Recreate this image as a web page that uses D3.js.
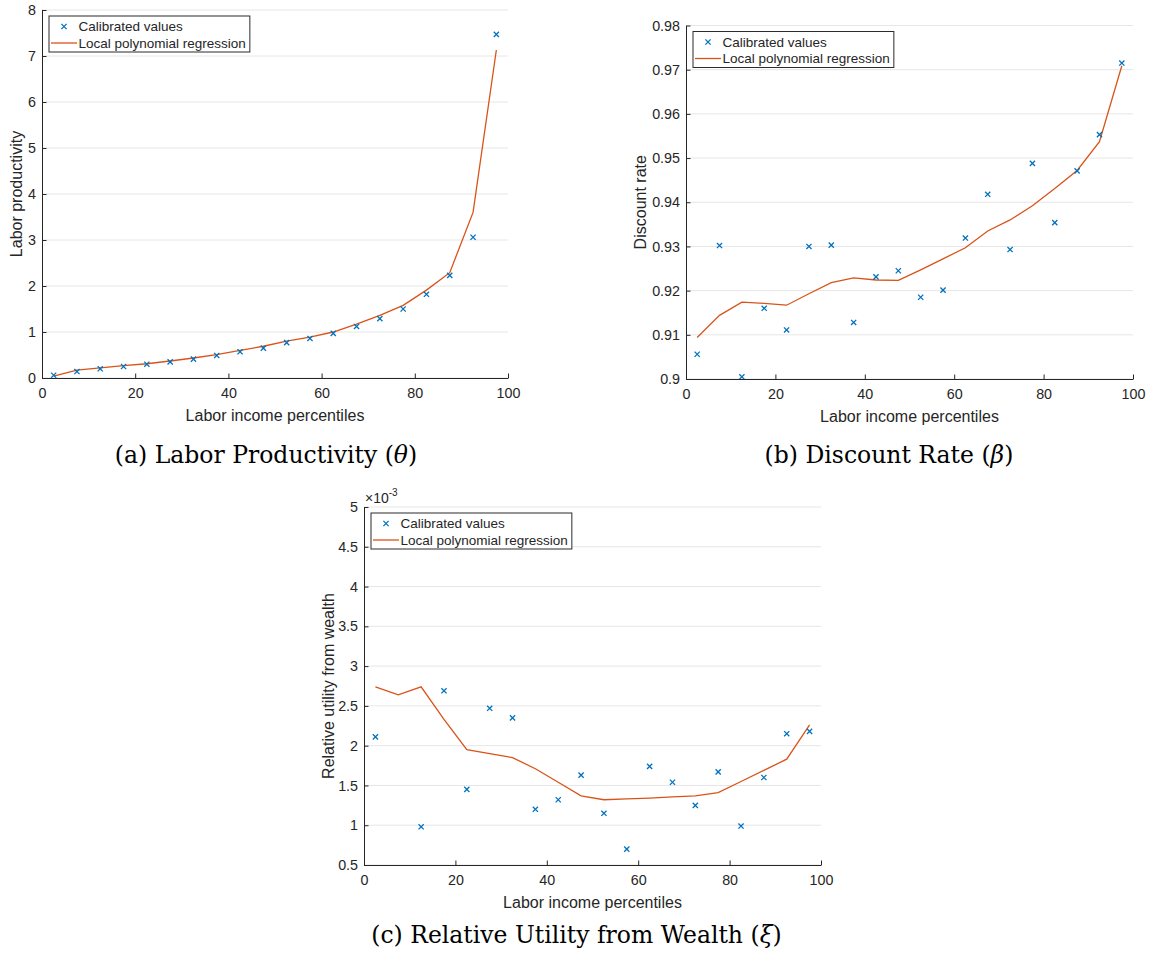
<!DOCTYPE html>
<html>
<head>
<meta charset="utf-8">
<script src="https://cdn.jsdelivr.net/npm/d3@7"></script>
<style>
body { margin: 0; background: #fff; }
svg text { font-family: "Liberation Sans", Arial, Helvetica, sans-serif; fill: #262626; }
svg text.caption { font-family: "DejaVu Serif", serif; fill: #000; }
</style>
</head>
<body>
<svg id="fig" width="1153" height="958"></svg>
<script>
// labor income percentile bins (midpoints)
var percentiles = [2.5,7.5,12.5,17.5,22.5,27.5,32.5,37.5,42.5,47.5,52.5,57.5,62.5,67.5,72.5,77.5,82.5,87.5,92.5,97.5];

// (a) labor productivity
var thetaCalibrated = [0.06,0.14,0.20,0.25,0.30,0.35,0.41,0.49,0.57,0.65,0.77,0.86,0.97,1.12,1.29,1.50,1.82,2.23,3.06,7.47];
var thetaRegression = [0.04,0.17,0.22,0.27,0.31,0.37,0.435,0.51,0.60,0.69,0.80,0.89,1.00,1.17,1.36,1.58,1.91,2.29,3.60,7.13];

// (b) discount rate
var betaCalibrated = [0.9056,0.9302,0.9005,0.9160,0.9111,0.9300,0.9303,0.9128,0.9231,0.9245,0.9185,0.9201,0.9319,0.9418,0.9293,0.9488,0.9354,0.9471,0.9553,0.9715];
var betaRegression = [0.9094,0.9144,0.9174,0.9171,0.9167,0.9193,0.9218,0.9229,0.9224,0.9223,0.9247,0.9272,0.9297,0.9335,0.9360,0.9392,0.9431,0.9472,0.9537,0.9709];

// (c) relative utility from wealth, in units of 1e-3 (no visible point at 7.5)
var xiCalibrated = [2.11,null,0.98,2.69,1.45,2.47,2.35,1.20,1.32,1.63,1.15,0.70,1.74,1.54,1.25,1.67,0.99,1.60,2.15,2.18];
var xiRegression = [2.74,2.64,2.74,2.33,1.95,1.90,1.85,1.71,1.54,1.37,1.32,1.33,1.34,1.356,1.37,1.41,1.55,1.69,1.83,2.26];

// ticks
var xTicks = [0,20,40,60,80,100];
var thetaTicks = [0,1,2,3,4,5,6,7,8];
var thetaTickLabels = ["0","1","2","3","4","5","6","7","8"];
var betaTicks = [0.90,0.91,0.92,0.93,0.94,0.95,0.96,0.97,0.98];
var betaTickLabels = ["0.9","0.91","0.92","0.93","0.94","0.95","0.96","0.97","0.98"];
var xiTicks = [0.5,1,1.5,2,2.5,3,3.5,4,4.5,5];
var xiTickLabels = ["0.5","1","1.5","2","2.5","3","3.5","4","4.5","5"];

var seriesNames = ["Calibrated values","Local polynomial regression"];
var blue = "#0072BD", orange = "#D95319";

var svg = d3.select("#fig");

function drawPanel(p) {
	var x = d3.scaleLinear().domain([0,100]).range([p.left,p.right]);
	var y = d3.scaleLinear().domain(p.yDomain).range([p.bottom,p.top]);
	var g = svg.append("g");

	// horizontal grid
	g.selectAll("line.grid")
		.data(p.yTicks)
		.enter().append("line")
			.attr("class","grid")
			.attr("x1",p.left)
			.attr("x2",p.right)
			.attr("y1",function(d){ return y(d); })
			.attr("y2",function(d){ return y(d); })
			.attr("stroke","#e6e6e6")
			.attr("stroke-width",1);

	// regression line
	var line = d3.line()
		.x(function(d,i){ return x(percentiles[i]); })
		.y(function(d){ return y(d); });
	g.append("path")
		.attr("d",line(p.regression))
		.attr("fill","none")
		.attr("stroke",orange)
		.attr("stroke-width",1.3);

	// calibrated points as x markers
	var pts = p.calibrated.map(function(d,i){ return {x:percentiles[i], v:d}; })
		.filter(function(d){ return d.v !== null; });
	g.selectAll("path.mark")
		.data(pts)
		.enter().append("path")
			.attr("class","mark")
			.attr("transform",function(d){ return "translate(" + x(d.x) + "," + y(d.v) + ")"; })
			.attr("d","M-2.6,-2.6L2.6,2.6M-2.6,2.6L2.6,-2.6")
			.attr("stroke",blue)
			.attr("stroke-width",1.3);

	// axes, ticks pointing inward
	var xAxis = g.append("g")
		.attr("transform","translate(0," + p.bottom + ")")
		.call(d3.axisBottom(x).tickValues(xTicks).tickSizeInner(-4.5).tickSizeOuter(0).tickPadding(10));
	var yAxis = g.append("g")
		.attr("transform","translate(" + p.left + ",0)")
		.call(d3.axisLeft(y).tickValues(p.yTicks).tickSizeInner(-4.5).tickSizeOuter(0).tickPadding(6)
			.tickFormat(function(d,i){ return p.yTickLabels[i]; }));
	[xAxis,yAxis].forEach(function(a){
		a.selectAll("path,line").attr("stroke","#262626");
		a.selectAll("text").attr("font-size",14.3).attr("fill","#262626")
			.style("font-family","'Liberation Sans', Arial, sans-serif");
	});

	// axis labels
	g.append("text")
		.attr("x",(p.left + p.right)/2)
		.attr("y",p.bottom + 43)
		.attr("text-anchor","middle")
		.attr("font-size",16)
		.text("Labor income percentiles");
	g.append("text")
		.attr("transform","translate(" + (p.left + p.yLabelOffset) + "," + (p.top + p.bottom)/2 + ") rotate(-90)")
		.attr("text-anchor","middle")
		.attr("font-size",16)
		.text(p.yLabel);

	// legend
	var bx = p.left + 7, by = p.top + 6;
	var lg = g.append("g");
	var box = lg.append("rect")
		.attr("x",bx).attr("y",by).attr("height",36)
		.attr("fill","#fff").attr("stroke","#2b2b2b").attr("stroke-width",1);
	lg.append("path")
		.attr("transform","translate(" + (bx + 15) + "," + (by + 10.5) + ")")
		.attr("d","M-2.6,-2.6L2.6,2.6M-2.6,2.6L2.6,-2.6")
		.attr("stroke",blue).attr("stroke-width",1.3);
	lg.append("line")
		.attr("x1",bx + 2).attr("x2",bx + 28)
		.attr("y1",by + 27).attr("y2",by + 27)
		.attr("stroke",orange).attr("stroke-width",1.3);
	var maxW = 0;
	seriesNames.forEach(function(s,i){
		var t = lg.append("text")
			.attr("x",bx + 29.5)
			.attr("y",by + 10.5 + i*16.5)
			.attr("dy","0.35em")
			.attr("font-size",13.5)
			.attr("fill","#000")
			.text(s);
		maxW = Math.max(maxW,t.node().getComputedTextLength());
	});
	box.attr("width",29.5 + maxW + 4);

	// caption below the panel
	var cap = g.append("text")
		.attr("class","caption")
		.attr("x",p.captionX)
		.attr("y",p.captionY)
		.attr("text-anchor","middle")
		.attr("font-size",23.5);
	cap.append("tspan").text(p.caption + " (");
	cap.append("tspan").attr("font-style","italic").text(p.symbol);
	cap.append("tspan").text(")");

	return {x:x, y:y, g:g};
}

drawPanel({
	left:42, right:508, top:10, bottom:378,
	yDomain:[0,8], yTicks:thetaTicks, yTickLabels:thetaTickLabels,
	calibrated:thetaCalibrated, regression:thetaRegression,
	yLabel:"Labor productivity", yLabelOffset:-20.5,
	caption:"(a) Labor Productivity", symbol:"\u03B8", captionX:266, captionY:463
});

drawPanel({
	left:686, right:1133, top:25.5, bottom:379,
	yDomain:[0.9,0.98], yTicks:betaTicks, yTickLabels:betaTickLabels,
	calibrated:betaCalibrated, regression:betaRegression,
	yLabel:"Discount rate", yLabelOffset:-40,
	caption:"(b) Discount Rate", symbol:"\u03B2", captionX:889, captionY:463
});

var pc = drawPanel({
	left:364, right:821, top:507, bottom:865,
	yDomain:[0.5,5], yTicks:xiTicks, yTickLabels:xiTickLabels,
	calibrated:xiCalibrated, regression:xiRegression,
	yLabel:"Relative utility from wealth", yLabelOffset:-30,
	caption:"(c) Relative Utility from Wealth", symbol:"\u03BE", captionX:576.5, captionY:943
});

// axis exponent for panel (c)
var ex = pc.g.append("text")
	.attr("x",365)
	.attr("y",503)
	.attr("font-size",14);
ex.append("tspan").text("\u00D710");
ex.append("tspan").attr("font-size",10).attr("dy",-7).text("-3");
</script>
</body>
</html>
